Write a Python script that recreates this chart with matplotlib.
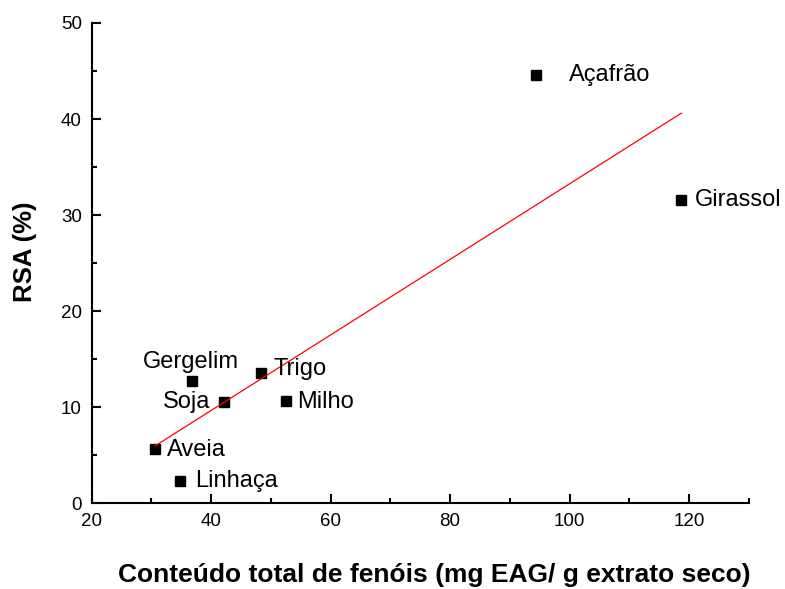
import numpy as np
import matplotlib
matplotlib.use("Agg")
import matplotlib.pyplot as plt
from matplotlib.ticker import MultipleLocator

plt.rcParams['font.family'] = ['Liberation Sans', 'DejaVu Sans']

oils = ["Açafrão", "Girassol", "Gergelim", "Trigo", "Soja", "Milho", "Aveia", "Linhaça"]
phenols = [94.3, 118.7, 36.8, 48.4, 42.2, 52.6, 30.6, 34.8]
rsa = [44.6, 31.6, 12.7, 13.6, 10.6, 10.7, 5.7, 2.3]

# label offsets (points) and alignment for each oil
label_style = {
    "Açafrão": ((24, 0), "left", "center"),
    "Girassol": ((10, 0), "left", "center"),
    "Gergelim": ((-1, 14), "center", "center"),
    "Trigo": ((9, 3), "left", "center"),
    "Soja": ((-10, 0), "right", "center"),
    "Milho": ((8, -1), "left", "center"),
    "Aveia": ((9, -1), "left", "center"),
    "Linhaça": ((11, 0), "left", "center"),
}

fig = plt.figure(figsize=(7.85, 5.89), dpi=100)
ax = fig.add_axes([0.1166, 0.1452, 0.8374, 0.8158])

ax.plot(phenols, rsa, linestyle="none", marker="s", color="black", markersize=7.5)

slope, intercept = np.polyfit(phenols, rsa, 1)
xs = np.array([min(phenols), max(phenols)])
ax.plot(xs, slope * xs + intercept, color="red", linewidth=0.9)

for name, x, y in zip(oils, phenols, rsa):
    (dx, dy), ha, va = label_style[name]
    ax.annotate(name, (x, y), xytext=(dx, dy), textcoords="offset points",
                ha=ha, va=va, fontsize=17)

ax.set_xlim(20, 130)
ax.set_ylim(0, 50)
ax.xaxis.set_major_locator(MultipleLocator(20))
ax.xaxis.set_minor_locator(MultipleLocator(10))
ax.yaxis.set_major_locator(MultipleLocator(10))
ax.yaxis.set_minor_locator(MultipleLocator(5))

for side in ("top", "right"):
    ax.spines[side].set_visible(False)
for side in ("left", "bottom"):
    ax.spines[side].set_linewidth(1.5)

ax.tick_params(which="major", direction="in", length=6.5, width=1.5, labelsize=13.5, pad=7)
ax.tick_params(which="minor", direction="in", length=3.5, width=1.5)

ax.set_xlabel("Conteúdo total de fenóis (mg EAG/ g extrato seco)", fontsize=19,
              fontweight="bold", va="center")
ax.set_ylabel("RSA (%)", fontsize=18.5, fontweight="bold", va="center")
ax.xaxis.set_label_coords(0.522, -0.148)
ax.yaxis.set_label_coords(-0.101, 0.523)

fig.savefig("out.png", dpi=100)
